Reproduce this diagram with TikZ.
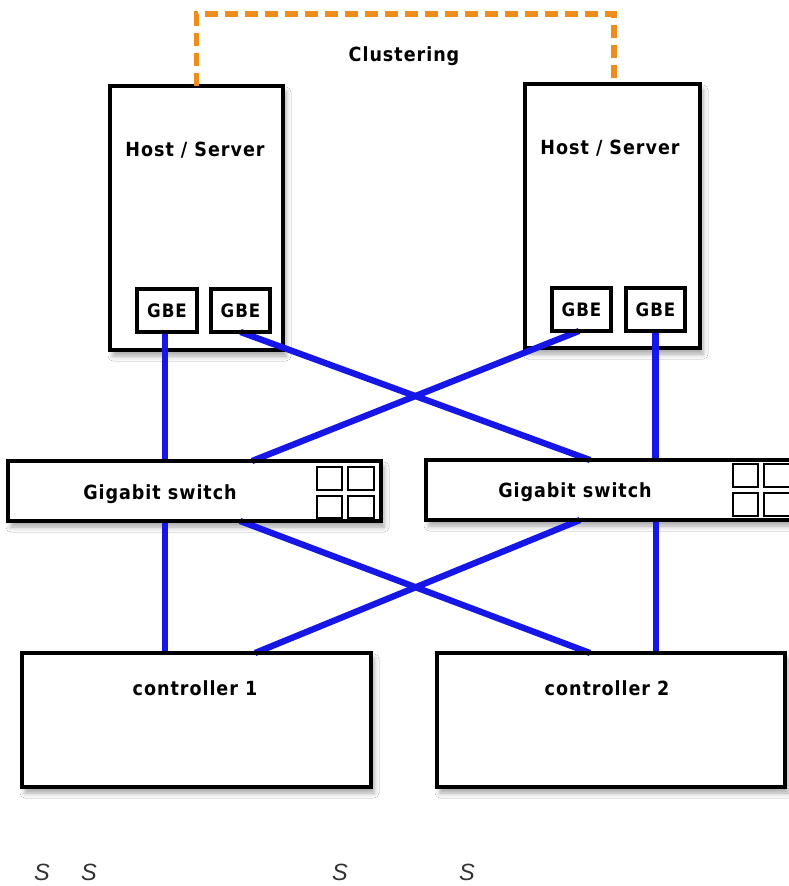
\documentclass[tikz,border=0pt]{standalone}
\usepackage{fontspec}
\usetikzlibrary{shadows.blur}
\newfontfamily\lblfont[LetterSpace=5]{DejaVu Sans Condensed Bold}
\newfontfamily\sfont{Liberation Sans}
\definecolor{linkblue}{RGB}{22,22,230}
\definecolor{clusterorange}{RGB}{240,140,25}
\definecolor{sgray}{RGB}{50,50,50}
\tikzset{
  box/.style={draw=black, line width=3.3pt, fill=white, inner sep=0pt, outer sep=0pt, anchor=north west,
    blur shadow={shadow xshift=3pt, shadow yshift=-6pt, shadow blur radius=5pt, shadow opacity=35}},
  gbebox/.style={draw=black, line width=3.3pt, fill=white, inner sep=0pt, outer sep=0pt, anchor=north west,
    minimum height=43pt, font=\lblfont\fontsize{18.5}{20}\selectfont},
  txt/.style={inner sep=0pt, anchor=base, font=\lblfont\fontsize{19.5}{22}\selectfont},
  link/.style={draw=linkblue, line width=6.3pt},
  cluster/.style={draw=clusterorange, line width=5.5pt, dash pattern=on 13pt off 7pt},
  port/.style={draw=black, line width=3.3pt},
  cell/.style={draw=black, line width=2.6pt},
  stxt/.style={inner sep=0pt, anchor=base, text=sgray, font=\sfont\itshape\fontsize{23.5}{26}\selectfont}
}
\begin{document}
\begin{tikzpicture}[x=1pt, y=-1pt]
\useasboundingbox (0,0) rectangle (789,886);
\fill[white] (0,0) rectangle (789,886);
\clip (0,0) rectangle (789,886);

% hosts
\node[box, minimum width=173pt, minimum height=264pt] (hostL) at (110,86) {};
\node[box, minimum width=175pt, minimum height=264pt] (hostR) at (525,84) {};
\node[txt] (hostLt) at (195,156) {Host / Server};
\node[txt] (hostRt) at (610,154) {Host / Server};

% clustering
\draw[cluster] (hostL.north) -- ++(0,-72) -| ([xshift=1.5pt]hostR.north);
\node[txt] (clu) at (404,61) {Clustering};

% network ports of the hosts
\node[gbebox, minimum width=60pt] (gbeL1) at (137,289) {GBE};
\node[gbebox, minimum width=59pt] (gbeL2) at (211,289) {GBE};
\node[gbebox, minimum width=59pt] (gbeR1) at (552,288) {GBE};
\node[gbebox, minimum width=59pt] (gbeR2) at (626,288) {GBE};

% switches
\node[box, minimum width=373pt, minimum height=60pt] (swL) at (8,461) {};
\node[box, minimum width=374pt, minimum height=60pt] (swR) at (426,460) {};

% controllers
\node[box, minimum width=349pt, minimum height=134pt] (ctlL) at (22,653) {};
\node[box, minimum width=348pt, minimum height=134pt] (ctlR) at (437,653) {};

% upper links
\draw[link] ([xshift=-2pt]gbeL1.south) -- ([xshift=-2pt]gbeL1.south |- swL.north);
\draw[link] (gbeL2.south) -- ([xshift=164pt]swR.north west);
\draw[link] ([xshift=-2.5pt]gbeR1.south) -- ([xshift=244pt]swL.north west);
\draw[link] (gbeR2.south) -- (gbeR2.south |- swR.north);

% lower links
\draw[link] ([xshift=157pt]swL.south west) -- ([xshift=143pt]ctlL.north west);
\draw[link] ([xshift=232pt]swL.south west) -- ([xshift=153pt]ctlR.north west);
\draw[link] ([xshift=154pt]swR.south west) -- ([xshift=233pt]ctlL.north west);
\draw[link] ([xshift=230pt]swR.south west) -- ([xshift=219pt]ctlR.north west);

% redraw box borders over link ends
\draw[port] (swL.north west) rectangle (swL.south east);
\draw[port] (swR.north west) rectangle (swR.south east);
\draw[port] (ctlL.north west) rectangle (ctlL.south east);
\draw[port] (ctlR.north west) rectangle (ctlR.south east);
\draw[port] (gbeL1.north west) rectangle (gbeL1.south east);
\draw[port] (gbeL2.north west) rectangle (gbeL2.south east);
\draw[port] (gbeR1.north west) rectangle (gbeR1.south east);
\draw[port] (gbeR2.north west) rectangle (gbeR2.south east);

% switch port grids
\draw[cell] (317,467) rectangle (342,490);
\draw[cell] (348,467) rectangle (374,490);
\draw[cell] (317,496) rectangle (342,518);
\draw[cell] (348,496) rectangle (374,518);
\draw[cell] (733,464) rectangle (758,487);
\draw[cell] (764,464) rectangle (791,487);
\draw[cell] (733,493) rectangle (758,516);
\draw[cell] (764,493) rectangle (791,516);

% texts
\node[txt] (swLt) at (160,499) {Gigabit switch};
\node[txt] (swRt) at (575,497) {Gigabit switch};
\node[txt] (ctlLt) at (195,695) {controller 1};
\node[txt] (ctlRt) at (607,695) {controller 2};

% stray letters
\node[stxt] (s1) at (42,880) {S};
\node[stxt] (s2) at (89,880) {S};
\node[stxt] (s3) at (340,880) {S};
\node[stxt] (s4) at (467,880) {S};
\end{tikzpicture}
\end{document}
